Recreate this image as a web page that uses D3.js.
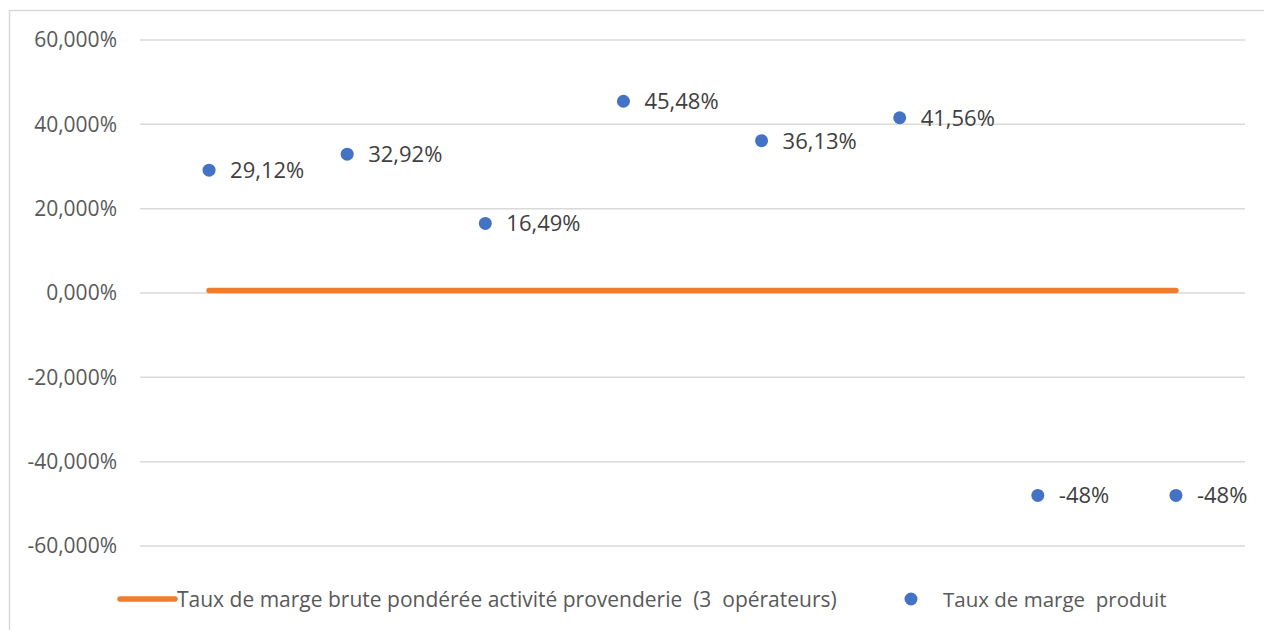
<!DOCTYPE html>
<html>
<head>
<meta charset="utf-8">
<script src="https://cdn.jsdelivr.net/npm/d3@7"></script>
<style>
  body { margin: 0; background: #fff; }
  text { font-family: "Open Sans", "Noto Sans", sans-serif; white-space: pre; }
</style>
</head>
<body>
<svg width="1264" height="630"></svg>
<script>
let svg = d3.select("svg"),
 width = +svg.attr("width"),
 height = +svg.attr("height");

// categories have no visible labels in the picture
let categories = ["p1", "p2", "p3", "p4", "p5", "p6", "p7", "p8"];
let produit_values = [29.12, 32.92, 16.49, 45.48, 36.13, 41.56, -48, -48];
let produit_labels = ["29,12%", "32,92%", "16,49%", "45,48%", "36,13%", "41,56%", "-48%", "-48%"];
let provenderie_values = [0.6, 0.6, 0.6, 0.6, 0.6, 0.6, 0.6, 0.6];
let y_ticks = [60, 40, 20, 0, -20, -40, -60];
let y_tick_labels = ["60,000%", "40,000%", "20,000%", "0,000%", "-20,000%", "-40,000%", "-60,000%"];

let orange = "#ED7D31",
 blue = "#4472C4";

// chart frame
svg.append("rect")
    .attr("x", 9.5).attr("y", 10.5)
    .attr("width", width).attr("height", height)
    .attr("fill", "none")
    .attr("stroke", "#d9d9d9")
    .attr("stroke-width", 1.5);

let x = d3.scaleBand()
    .domain(categories)
    .range([140, 1245]);

let y = d3.scaleLinear()
    .domain([-60, 60])
    .range([546, 40]);

// gridlines
svg.append("g")
    .attr("class", "grid")
    .selectAll("line")
    .data(y_ticks)
    .enter().append("line")
    .attr("x1", 140).attr("x2", 1245)
    .attr("y1", d => y(d)).attr("y2", d => y(d))
    .attr("stroke", "#d9d9d9")
    .attr("stroke-width", 1.5);

// y axis labels
let yAxis = d3.axisLeft(y)
    .tickValues(y_ticks)
    .tickSize(0)
    .tickPadding(23)
    .tickFormat((d, i) => y_tick_labels[i]);

let yg = svg.append("g")
    .attr("transform", "translate(140,0)")
    .call(yAxis);
yg.select(".domain").remove();
yg.selectAll("text")
    .attr("font-family", "'Open Sans', sans-serif")
    .attr("font-size", 21)
    .attr("fill", "#595959");

// orange line
let line = d3.line()
    .x((d, i) => x(categories[i]) + x.bandwidth() / 2)
    .y(d => y(d));

svg.append("path")
    .datum(provenderie_values)
    .attr("d", line)
    .attr("fill", "none")
    .attr("stroke", orange)
    .attr("stroke-width", 5.5)
    .attr("stroke-linecap", "round");

// points
svg.append("g")
    .attr("class", "points")
    .selectAll("circle")
    .data(produit_values)
    .enter().append("circle")
    .attr("cx", (d, i) => x(categories[i]) + x.bandwidth() / 2)
    .attr("cy", d => y(d))
    .attr("r", 6.5)
    .attr("fill", blue);

// data labels
svg.append("g")
    .attr("class", "labels")
    .selectAll("text")
    .data(produit_values)
    .enter().append("text")
    .attr("x", (d, i) => x(categories[i]) + x.bandwidth() / 2 + 21)
    .attr("y", d => y(d) + 8)
    .attr("font-size", 22)
    .attr("fill", "#404040")
    .text((d, i) => produit_labels[i]);

// legend
let legend = svg.append("g").attr("class", "legend");

legend.append("line")
    .attr("x1", 120).attr("x2", 175)
    .attr("y1", 599).attr("y2", 599)
    .attr("stroke", orange)
    .attr("stroke-width", 5.5)
    .attr("stroke-linecap", "round");

legend.append("text")
    .attr("x", 177).attr("y", 607)
    .attr("font-size", 21)
    .attr("fill", "#595959")
    .text("Taux de marge brute pondérée activité provenderie  (3  opérateurs)");

legend.append("circle")
    .attr("cx", 911).attr("cy", 599)
    .attr("r", 6.5)
    .attr("fill", blue);

legend.append("text")
    .attr("x", 943).attr("y", 607)
    .attr("font-size", 20.5)
    .attr("fill", "#595959")
    .text("Taux de marge  produit");
</script>
</body>
</html>
